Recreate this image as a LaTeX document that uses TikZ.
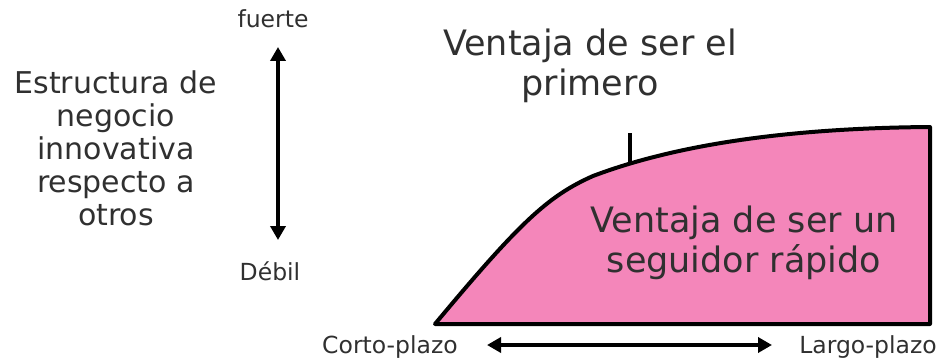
\documentclass[tikz,border=0pt]{standalone}
\usepackage{fontspec}
\setmainfont{DejaVu Sans}
\usetikzlibrary{arrows.meta}
\definecolor{rosa}{HTML}{F486BA}
\definecolor{texto}{HTML}{303030}

\begin{document}
\begin{tikzpicture}[x=1pt, y=-1pt, >={Triangle[length=14pt,width=15pt]},
  etiqueta/.style={text=texto, anchor=base, inner sep=0pt, font=\fontsize{23.5}{28}\selectfont},
  flecha/.style={<->, line width=4pt},
  grande/.style={text=texto, align=center, font=\fontsize{35}{40}\selectfont}]

\useasboundingbox (0,0) rectangle (939,361);

\coordinate (ftop) at (278,47);
\coordinate (fbot) at (278,240);
\coordinate (hizq) at (487,345);
\coordinate (hder) at (772,345);
\coordinate (marca) at (630,133);
\coordinate (marcab) at (630,162);

% zona del seguidor
\draw[line width=4pt, fill=rosa, line join=round]
  (435,324) .. controls (520,222) and (548,196) .. (593,176)
  .. controls (683,142) and (800,128) .. (930,127) -- (930,324) -- cycle;
\draw[line width=4pt] (marca) -- (marcab);

\node[etiqueta] (fuerte) at (273,28) {fuerte};
\node[etiqueta] (debil) at (270,280) {Débil};
\node[etiqueta] (corto) at (390,353) {Corto-plazo};
\node[etiqueta] (largo) at (868,353) {Largo-plazo};

\draw[flecha] (ftop) -- (fbot);
\draw[flecha] (hizq) -- (hder);

\node[grande, font=\fontsize{30}{33}\selectfont] (estructura) at (116,148)
  {Estructura de\\negocio\\innovativa\\respecto a\\otros};
\node[grande] (primero) at (590,66) {Ventaja de ser el\\primero};
\node[grande] (seguidor) at (744,243)
  {Ventaja de ser un\\seguidor rápido};

\end{tikzpicture}
\end{document}
